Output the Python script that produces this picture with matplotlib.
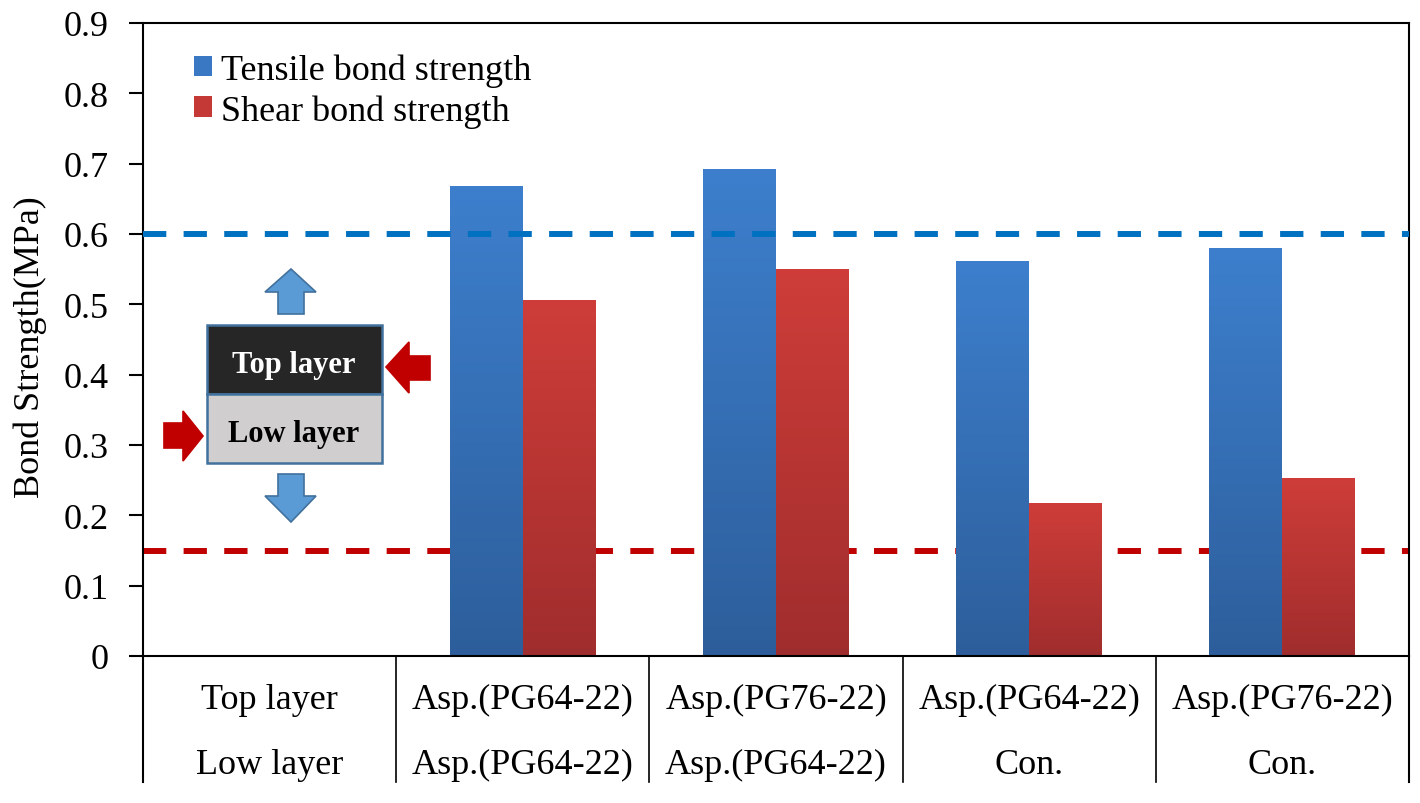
import matplotlib
matplotlib.use('Agg')
import matplotlib.pyplot as plt
import numpy as np
from matplotlib.colors import LinearSegmentedColormap
from matplotlib.patches import Polygon, Rectangle, Patch
from matplotlib.lines import Line2D

plt.rcParams['font.family'] = ['Liberation Serif', 'DejaVu Serif']

# data
top_layer = ['Top layer', 'Asp.(PG64-22)', 'Asp.(PG76-22)', 'Asp.(PG64-22)', 'Asp.(PG76-22)']
low_layer = ['Low layer', 'Asp.(PG64-22)', 'Asp.(PG64-22)', 'Con.', 'Con.']
tensile = [np.nan, 0.668, 0.692, 0.561, 0.580]
shear = [np.nan, 0.505, 0.550, 0.217, 0.253]
tensile_limit = 0.6
shear_limit = 0.15
yticks = np.arange(0, 0.91, 0.1)

W, H = 1420, 804
fig = plt.figure(figsize=(W / 100, H / 100), dpi=100)
ax = fig.add_axes([143 / W, 1 - 657 / H, 1266 / W, 633 / H])

x = np.arange(len(top_layer))
bw = 0.288


def gradient_bars(ax, bars, top_color, bottom_color):
    cmap = LinearSegmentedColormap.from_list('g', [bottom_color, top_color])
    grad = np.linspace(1, 0, 256).reshape(-1, 1)
    for b in bars:
        h = b.get_height()
        if not np.isfinite(h) or h <= 0:
            continue
        x0 = b.get_x()
        ax.imshow(grad, cmap=cmap, extent=[x0, x0 + b.get_width(), 0, h],
                  aspect='auto', zorder=2, interpolation='bilinear')


b1 = ax.bar(x - bw / 2, tensile, bw, color='none', zorder=2)
b2 = ax.bar(x + bw / 2, shear, bw, color='none', zorder=2)
gradient_bars(ax, b1, '#3D7FCD', '#2D5E9B')
gradient_bars(ax, b2, '#CE3D39', '#A02D2D')

ax.axhline(tensile_limit, color='#0070C0', lw=4.3, dashes=(3.9, 2.9), zorder=3)
ax.axhline(shear_limit, color='#C00000', lw=4.3, dashes=(3.9, 2.9), zorder=1)

ax.set_xlim(-0.5, len(top_layer) - 0.5)
ax.set_ylim(0, 0.9)
ax.set_yticks(yticks)
ax.set_yticklabels(['0' if v == 0 else f'{v:.1f}' for v in yticks], fontsize=26)
ax.set_xticks([])
ax.tick_params(axis='y', direction='out', length=10, width=1.5, pad=15)
for s in ax.spines.values():
    s.set_linewidth(1.5)
ax.set_ylabel('Bond Strength(MPa)', fontsize=26)
ax.yaxis.set_label_coords(-0.076, 0.49)

# table under the axis
tr = ax.get_xaxis_transform()
for xv in np.arange(-0.5, len(top_layer), 1.0):
    ax.add_line(Line2D([xv, xv], [0, -0.199], transform=tr, color='black',
                       lw=1.5 if xv in (-0.5, len(top_layer) - 0.5) else 1.2, clip_on=False))
for i in x:
    ax.text(i, -0.068, top_layer[i], transform=tr, ha='center', va='center', fontsize=26)
    ax.text(i, -0.171, low_layer[i], transform=tr, ha='center', va='center', fontsize=26)

# legend
handles = [Patch(facecolor='#3A78C4'), Patch(facecolor='#C43935')]
ax.legend(handles, ['Tensile bond strength', 'Shear bond strength'], loc='upper left',
          bbox_to_anchor=(0.040, 0.952), frameon=False, fontsize=26, handlelength=0.5,
          handleheight=0.5, handletextpad=0.27, labelspacing=0.2, borderaxespad=0,
          borderpad=0)


# inset sketch in figure pixels
def P(px, py):
    return (px / W, 1 - py / H)


ft = fig.transFigure
fig.add_artist(Rectangle(P(207, 395), (382 - 207) / W, (395 - 326) / H, transform=ft,
                         facecolor='#262626', edgecolor='#41719C', lw=1.8))
fig.add_artist(Rectangle(P(207, 464), (382 - 207) / W, (464 - 395) / H, transform=ft,
                         facecolor='#D0CECE', edgecolor='#41719C', lw=1.8))
fig.text(*P(294, 366), 'Top layer', color='white', fontsize=22, fontweight='bold',
         ha='center', va='center')
fig.text(*P(294, 435), 'Low layer', color='black', fontsize=22, fontweight='bold',
         ha='center', va='center')

up = [(278, 315), (278, 293), (265, 293), (291, 270), (316, 293), (304, 293), (304, 315)]
down = [(278, 475), (278, 497), (265, 497), (291, 523), (316, 497), (304, 497), (304, 475)]
left = [(430, 357), (409, 357), (409, 343), (386, 368), (409, 394), (409, 381), (430, 381)]
right = [(164, 424), (183, 424), (183, 412), (203, 437), (183, 462), (183, 449), (164, 449)]
for pts, fc, ec in [(up, '#5B9BD5', '#41719C'), (down, '#5B9BD5', '#41719C'),
                    (left, '#C00000', '#C00000'), (right, '#C00000', '#C00000')]:
    fig.add_artist(Polygon([P(a, b) for a, b in pts], closed=True, transform=ft,
                           facecolor=fc, edgecolor=ec, lw=1.2))

fig.savefig('out.png', dpi=100)
